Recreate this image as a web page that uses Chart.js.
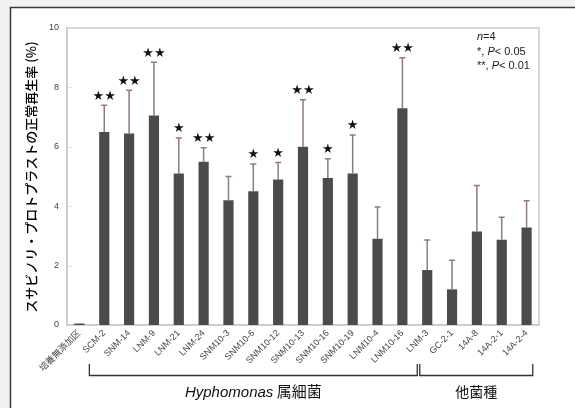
<!DOCTYPE html>
<html>
<head>
<meta charset="utf-8">
<script src="https://cdn.jsdelivr.net/npm/chart.js@4/dist/chart.umd.min.js"></script>
<style>
  html, body { margin: 0; padding: 0; background: #f1f1f1; }
  #wrap { width: 575px; height: 408px; position: relative; }
</style>
</head>
<body>
<div id="wrap"><canvas id="c" width="575" height="408"></canvas></div>
<script>
// Strains tested
const categories = ['培養無添加区','SCM-2','SNM-14','LNM-9','LNM-21','LNM-24','SNM10-3','SNM10-6','SNM10-12','SNM10-13','SNM10-16','SNM10-19','LNM10-4','LNM10-16','LNM-3','GC-2-1','14A-8','14A-2-1','14A-2-4'];
// Mean normal regeneration rate (%)
const means = [0.05, 6.5, 6.45, 7.05, 5.1, 5.5, 4.2, 4.5, 4.9, 6.0, 4.95, 5.1, 2.9, 7.3, 1.85, 1.2, 3.15, 2.87, 3.28];
// Standard deviation (upper error bar)
const errors = [0, 0.9, 1.45, 1.8, 1.2, 0.47, 0.8, 0.92, 0.57, 1.58, 0.65, 1.3, 1.07, 1.7, 1.01, 0.98, 1.55, 0.76, 0.9];
// Significance marks
const signif = ['', '**', '**', '**', '*', '**', '', '*', '*', '**', '*', '*', '', '**', '', '', '', '', ''];
// Y axis ticks
const yTicks = [0, 2, 4, 6, 8, 10];
// Strain groups (first and last category index)
const groupNames = ['Hyphomonas', '他菌種'];
const groupSuffix = [' 属細菌', ''];
const groupFirst = [1, 14];
const groupLast = [13, 18];
// Notes
const noteLines = ['n=4', '*, P< 0.05', '**, P< 0.01'];

const SANS = '"Liberation Sans", Arial, "Noto Sans CJK JP", sans-serif';
const JP = '"Noto Sans CJK JP", "Liberation Sans", sans-serif';

const decor = {
  id: 'decor',
  beforeDraw(chart) {
    const ctx = chart.ctx;
    ctx.save();
    ctx.fillStyle = '#f1f1f1';
    ctx.fillRect(0, 0, chart.width, chart.height);
    ctx.fillStyle = '#ffffff';
    ctx.fillRect(10, 7, chart.width - 10, chart.height - 7);
    ctx.strokeStyle = '#3a3a3a';
    ctx.lineWidth = 1.5;
    ctx.beginPath();
    ctx.moveTo(10.5, chart.height);
    ctx.lineTo(10.5, 7.5);
    ctx.lineTo(chart.width, 7.5);
    ctx.stroke();
    // plot frame
    const a = chart.chartArea;
    ctx.strokeStyle = '#cfc8c4';
    ctx.lineWidth = 1.5;
    ctx.strokeRect(a.left, a.top, a.right - a.left, a.bottom - a.top);
    // faint y tick marks
    const ys = chart.scales.y;
    ctx.strokeStyle = '#e2e2e2';
    ctx.lineWidth = 1;
    yTicks.forEach(v => {
      const y = Math.round(ys.getPixelForValue(v)) + 0.5;
      ctx.beginPath();
      ctx.moveTo(a.left + 1, y);
      ctx.lineTo(a.left + 5, y);
      ctx.stroke();
    });
    ctx.restore();
  },
  afterDatasetsDraw(chart) {
    const ctx = chart.ctx;
    const xs = chart.scales.x, ys = chart.scales.y;
    ctx.save();
    // error bars
    ctx.strokeStyle = '#8f7d77';
    ctx.lineWidth = 1.5;
    means.forEach((m, i) => {
      if (!errors[i]) return;
      const x = xs.getPixelForValue(i);
      const y0 = ys.getPixelForValue(m);
      const y1 = ys.getPixelForValue(m + errors[i]);
      ctx.beginPath();
      ctx.moveTo(x, y0);
      ctx.lineTo(x, y1);
      ctx.moveTo(x - 3, y1);
      ctx.lineTo(x + 3, y1);
      ctx.stroke();
    });
    // significance stars
    ctx.fillStyle = '#111';
    ctx.font = '13px "DejaVu Sans", sans-serif';
    ctx.textAlign = 'center';
    ctx.textBaseline = 'middle';
    signif.forEach((s, i) => {
      if (!s) return;
      const x = xs.getPixelForValue(i);
      const y = ys.getPixelForValue(means[i] + errors[i]) - 9;
      ctx.fillText(s.replace(/\*/g, '★'), x, y);
    });
    ctx.restore();
  },
  afterDraw(chart) {
    const ctx = chart.ctx;
    const xs = chart.scales.x;
    ctx.save();
    // y axis title
    ctx.translate(31, 177);
    ctx.rotate(-Math.PI / 2);
    ctx.fillStyle = '#000';
    ctx.font = '500 13px ' + JP;
    ctx.textAlign = 'center';
    ctx.textBaseline = 'middle';
    ctx.fillText('スサビノリ・プロトプラストの正常再生率 (%)', 0, 0);
    ctx.restore();

    // group brackets
    ctx.save();
    const cw = xs.getPixelForValue(1) - xs.getPixelForValue(0);
    const yLine = 375.5, yTop = 364;
    ctx.strokeStyle = '#333';
    ctx.lineWidth = 1.3;
    groupNames.forEach((name, g) => {
      const x0 = xs.getPixelForValue(groupFirst[g]) - (g === 0 ? 0.6 : 0.3) * cw;
      const x1 = xs.getPixelForValue(groupLast[g]) + (g === 0 ? 0.6 : 0.25) * cw;
      ctx.beginPath();
      ctx.moveTo(x0, yTop);
      ctx.lineTo(x0, yLine);
      ctx.lineTo(x1, yLine);
      ctx.lineTo(x1, yTop);
      ctx.stroke();
      // label
      const cx = (x0 + x1) / 2;
      ctx.fillStyle = '#111';
      ctx.textBaseline = 'alphabetic';
      ctx.textAlign = 'left';
      const fItal = 'italic 15px ' + SANS;
      const fReg = '15px ' + JP;
      ctx.font = fItal;
      const w1 = ctx.measureText(name).width;
      ctx.font = fReg;
      const w2 = ctx.measureText(groupSuffix[g]).width;
      if (g === 0) {
        const sx = cx - (w1 + w2) / 2;
        ctx.font = fItal;
        ctx.fillText(name, sx, 397);
        ctx.font = fReg;
        ctx.fillText(groupSuffix[g], sx + w1, 397);
      } else {
        ctx.font = '14px ' + JP;
        ctx.textAlign = 'center';
        ctx.fillText(name, cx, 397);
      }
    });
    ctx.restore();

    // notes
    ctx.save();
    ctx.fillStyle = '#222';
    ctx.textBaseline = 'alphabetic';
    ctx.textAlign = 'left';
    const nx = 477;
    const ny = [40, 55, 69];
    ctx.font = 'italic 11px ' + SANS;
    ctx.fillText('n', nx, ny[0]);
    const wn = ctx.measureText('n').width;
    ctx.font = '11px ' + SANS;
    ctx.fillText('=4', nx + wn, ny[0]);
    [1, 2].forEach(k => {
      const [pre, rest] = noteLines[k].split('P');
      ctx.font = '11px ' + SANS;
      ctx.fillText(pre, nx, ny[k]);
      const wp = ctx.measureText(pre).width;
      ctx.font = 'italic 11px ' + SANS;
      ctx.fillText('P', nx + wp, ny[k]);
      const wP = ctx.measureText('P').width;
      ctx.font = '11px ' + SANS;
      ctx.fillText(rest, nx + wp + wP, ny[k]);
    });
    ctx.restore();
  }
};

new Chart(document.getElementById('c'), {
  type: 'bar',
  data: {
    labels: categories,
    datasets: [{
      data: means,
      backgroundColor: '#4b4b4b',
      borderWidth: 0,
      barPercentage: 0.41,
      categoryPercentage: 1.0
    }]
  },
  options: {
    responsive: false,
    animation: false,
    devicePixelRatio: 1,
    layout: { padding: { top: 28, right: 36, left: 0, bottom: 0 } },
    plugins: { legend: { display: false }, tooltip: { enabled: false } },
    scales: {
      x: {
        grid: { display: false, drawTicks: false },
        border: { display: true, color: '#cfc8c4', width: 1.5 },
        ticks: {
          autoSkip: false,
          maxRotation: 45,
          minRotation: 45,
          padding: 3,
          color: '#444',
          font: { size: 9, family: SANS }
        },
        afterFit(scale) { scale.height = 83; }
      },
      y: {
        min: 0,
        max: 10,
        grid: { display: false, drawTicks: false },
        border: { display: true, color: '#cfc8c4', width: 1.5 },
        afterBuildTicks(scale) { scale.ticks = yTicks.map(v => ({ value: v })); },
        ticks: {
          padding: 8,
          color: '#444',
          font: { size: 9, family: SANS }
        },
        afterFit(scale) { scale.width = 67; }
      }
    }
  },
  plugins: [decor]
});
</script>
</body>
</html>
